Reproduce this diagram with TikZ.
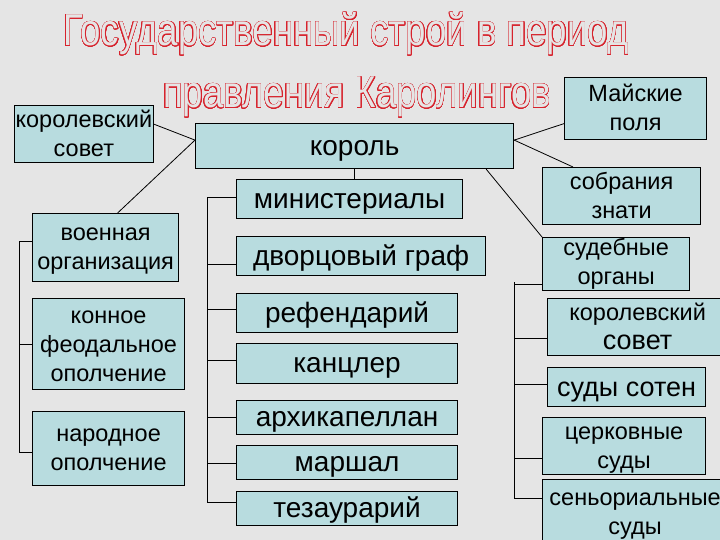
\documentclass[tikz,border=0pt]{standalone}
\usepackage{fontspec}
\setmainfont{Liberation Sans}
\usepackage{contour}
\contourlength{0.55pt}
\contournumber{24}
\definecolor{bgcol}{RGB}{229,229,229}
\definecolor{boxfill}{RGB}{184,220,223}
\definecolor{titlered}{RGB}{215,35,45}

\begin{document}
\begin{tikzpicture}[x=1pt,y=-1pt,box/.style={draw,line width=1.2pt,fill=boxfill,align=center,inner sep=1pt,anchor=north west},bigtxt/.style={font=\fontsize{28}{33}\selectfont,execute at begin node={\rule{0pt}{24pt}},execute at end node={\rule[-6pt]{0pt}{6pt}}},smalltxt/.style={font=\fontsize{23.5}{29}\selectfont,execute at begin node={\rule{0pt}{#1}},execute at end node={\rule[-5pt]{0pt}{5pt}}},smalltxt/.default=49.5pt,conn/.style={line width=0.8pt},ttl/.style={anchor=base,text=bgcol,font=\fontsize{44.7}{50}\selectfont}]
\useasboundingbox (0,0) rectangle (720,540);
\fill[bgcol] (0,0) rectangle (720,540);
% title
\node[ttl] (title1) at (346,46) {\scalebox{0.82}[1]{\contour{titlered}{Государственный строй в период}}};
\node[ttl] (title2) at (357,108) {\scalebox{0.82}[1]{\contour{titlered}{правления Каролингов}}};
% top row
\node[box,bigtxt,minimum width=318,minimum height=45] (korol) at (195,123) {король};
\node[box,smalltxt,minimum width=136,minimum height=57] (sovetL) at (14,105) {королевский\\совет};
\node[box,smalltxt,minimum width=142,minimum height=62] (maj) at (564,77) {Майские\\поля};
% middle column
\node[box,bigtxt,minimum width=226,minimum height=39] (ministr) at (236,179) {министериалы};
\node[box,bigtxt,minimum width=249,minimum height=39] (dvor) at (236,236) {дворцовый граф};
\node[box,bigtxt,minimum width=221,minimum height=39] (refer) at (236,293) {рефендарий};
\node[box,bigtxt,minimum width=221,minimum height=40] (kancl) at (236,343) {канцлер};
\node[box,bigtxt,minimum width=221,minimum height=34] (arhik) at (236,400) {архикапеллан};
\node[box,bigtxt,minimum width=221,minimum height=34] (marsh) at (236,445) {маршал};
\node[box,bigtxt,minimum width=221,minimum height=34] (tezaur) at (236,491) {тезаурарий};
% left column
\node[box,smalltxt,minimum width=146,minimum height=68] (voen) at (32,213) {военная\\организация};
\node[box,smalltxt=80.4pt,minimum width=152,minimum height=91] (konn) at (32,298) {конное\\феодальное\\ополчение};
\node[box,smalltxt,minimum width=152,minimum height=74] (narod) at (32,411) {народное\\ополчение};
% right column
\node[box,smalltxt,minimum width=158,minimum height=57] (sobr) at (542,167) {собрания\\знати};
\node[box,smalltxt=43pt,minimum width=147,minimum height=50] (sud) at (542,237) {судебные\\органы};
\node[box,smalltxt,minimum width=180,minimum height=57] (sovetR) at (547,298) {королевский\\{\fontsize{27}{31}\selectfont совет}};
\node[box,bigtxt,font=\fontsize{27}{32}\selectfont,minimum width=158,minimum height=39] (sotni) at (547,367) {суды сотен};
\node[box,smalltxt,minimum width=163,minimum height=57] (cerkov) at (542,417) {церковные\\суды};
\node[box,smalltxt,minimum width=185,minimum height=66] (senior) at (542,479) {сеньориальные\\суды};
% connectors
\draw[conn] ([yshift=6pt]korol.west) -- ([yshift=10pt]sovetL.east); \draw[conn] ([yshift=6pt]korol.west) -- ([xshift=12pt]voen.north);
\draw[conn] ([yshift=6pt]korol.east) -- ([yshift=-15pt]maj.west); \draw[conn] ([yshift=6pt]korol.east) -- ([xshift=31pt]sobr.north west);
\draw[conn] ([xshift=-28pt]korol.south east) -- (sud.north west);
\draw[conn] (korol.south) -- (korol.south |- ministr.north);
% brackets
\coordinate (ltop) at (19,241); \coordinate (mtop) at (207,197); \coordinate (rtop) at (514,282);
\foreach \n/\d in {voen/6,konn/0,narod/-4} \draw[conn] ([yshift=\d pt]\n.west) -| (ltop);
\foreach \n/\d in {ministr/2,dvor/-8,refer/4,kancl/3,arhik/0,marsh/-1,tezaur/6} \draw[conn] ([yshift=\d pt]\n.west) -| (mtop);
\foreach \n/\d in {sud/-20,sovetR/-11,sotni/3,cerkov/-12,senior/14} \draw[conn] ([yshift=\d pt]\n.west) -| (rtop);
\end{tikzpicture}
\end{document}
